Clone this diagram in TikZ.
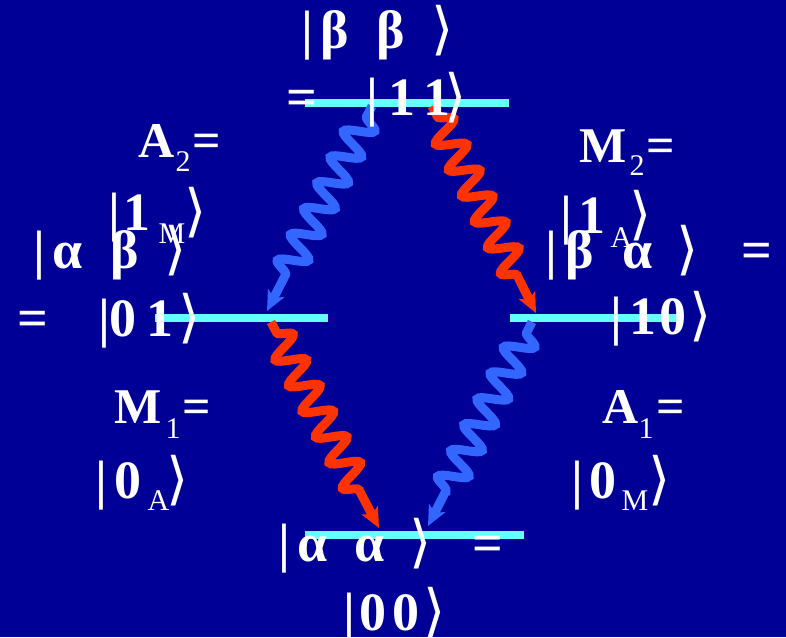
\documentclass[tikz,border=0pt]{standalone}
\usepackage{fontspec}
\setmainfont{Liberation Serif}
\newfontfamily\angf{DejaVu Sans}
\usetikzlibrary{decorations.pathmorphing,arrows.meta}
\definecolor{bg}{RGB}{0,0,150}
\definecolor{lvl}{RGB}{102,255,255}
\definecolor{bw}{RGB}{51,102,255}
\definecolor{rw}{RGB}{255,51,0}
\newcommand\glp[2]{\makebox[0pt][l]{\hspace*{#1pt}#2}}
\newcommand\sbg[3]{\makebox[0pt][l]{\hspace*{#1pt}\raisebox{-#2pt}{\fontsize{30}{34}\mdseries\selectfont #3}}}
\newcommand\ket{{\angf\mdseries\fontsize{57}{60}\selectfont ⟩}}
\tikzset{
  level/.style={fill=lvl, inner sep=0pt, minimum height=8pt, draw=none},
  wave/.style={draw=#1, line width=9pt, decorate,
    decoration={snake, amplitude=14pt, segment length=29pt, pre length=12pt, post length=38pt},
    -{Stealth[length=20pt,width=18pt,inset=5pt]}},
  txt/.style={text=white, inner sep=0pt, anchor=base west, font=\bfseries\fontsize{54}{60}\selectfont},
  lab/.style={txt, font=\bfseries\fontsize{50}{60}\selectfont}
}
\begin{document}
\begin{tikzpicture}[x=1pt,y=-1pt]
\fill[bg] (0,0) rectangle (786,637);
\useasboundingbox (0,0) rectangle (786,637);
% energy levels
\node[level, minimum width=204pt] (top) at (407,103) {};
\node[level, minimum width=173pt] (left) at (241.5,318) {};
\node[level, minimum width=170pt] (right) at (595,318) {};
\node[level, minimum width=219pt] (bot) at (414.5,535) {};
% arrow end points
\coordinate (b1s) at (372,106);
\coordinate (b1e) at (267,311);
\coordinate (r1s) at (432,106);
\coordinate (r1e) at (536,313);
\coordinate (r2s) at (271,322);
\coordinate (r2e) at (379,528);
\coordinate (b2s) at (532,322);
\coordinate (b2e) at (428,526);
\draw[wave=bw] (b1s) -- (b1e);
\draw[wave=rw] (r1s) -- (r1e);
\draw[wave=rw] (r2s) -- (r2e);
\draw[wave=bw] (b2s) -- (b2e);
% texts
\node[txt] (t1) at (301,48) {\glp{0}{|}\glp{19}{β}\glp{75}{β}\glp{130}{\ket}};
\node[txt] (t2) at (286,115) {\glp{0}{=}\glp{80}{|}\glp{102}{1}\glp{137}{1}\glp{158}{\ket}};
\node[lab] (t3) at (138,157) {\glp{0}{A}\sbg{37}{14}{2}\glp{54}{=}};
\node[txt] (t4) at (108,230) {\glp{0}{|}\glp{15}{1}\sbg{50}{13}{M}\glp{76}{\ket}};
\node[txt] (t5) at (33,268) {\glp{0}{|}\glp{19}{α}\glp{77}{β}\glp{131}{\ket}};
\node[txt] (t6) at (17,336) {\glp{0}{=}\glp{81}{|}\glp{92}{0}\glp{129}{1}\glp{161}{\ket}};
\node[lab] (t7) at (579,162) {\glp{0}{M}\sbg{50}{13}{2}\glp{67}{=}};
\node[txt] (t8) at (560,233) {\glp{0}{|}\glp{18}{1}\sbg{50}{14}{A}\glp{69}{\ket}};
\node[txt] (t9) at (545,268) {\glp{0}{|}\glp{20}{β}\glp{77}{α}\glp{131}{\ket}\glp{196}{=}};
\node[txt] (t10) at (610,334) {\glp{0}{|}\glp{19}{1}\glp{49}{0}\glp{79}{\ket}};
\node[lab] (t11) at (114,423) {\glp{0}{M}\sbg{51}{15}{1}\glp{68}{=}};
\node[txt] (t12) at (95,498) {\glp{0}{|}\glp{19}{0}\sbg{52}{12}{A}\glp{71}{\ket}};
\node[lab] (t13) at (602,423) {\glp{0}{A}\sbg{36}{15}{1}\glp{54}{=}};
\node[txt] (t14) at (571,498) {\glp{0}{|}\glp{18}{0}\sbg{50}{12}{M}\glp{77}{\ket}};
\node[txt] (t15) at (278,561) {\glp{0}{|}\glp{19}{α}\glp{76}{α}\glp{131}{\ket}\glp{194}{=}};
\node[txt] (t16) at (343,630) {\glp{0}{|}\glp{16}{0}\glp{49}{0}\glp{80}{\ket}};
\end{tikzpicture}
\end{document}
